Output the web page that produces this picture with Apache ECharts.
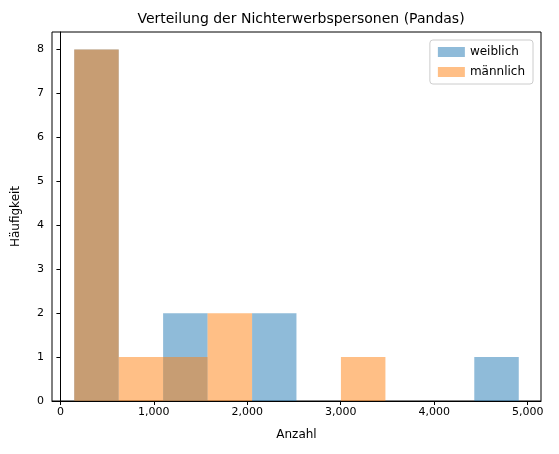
<!DOCTYPE html>
<html><head><meta charset="utf-8">
<script src="https://cdn.jsdelivr.net/npm/echarts@6/dist/echarts.min.js"></script>
<style>html,body{margin:0;padding:0;background:#fff}#c{width:559px;height:454px}</style>
</head><body><div id="c"></div>
<script>
const binEdges = [148, 624, 1099, 1575, 2051, 2526, 3002, 3478, 3953, 4429, 4905];
const weiblich = [8, 0, 2, 0, 2, 0, 0, 0, 0, 1];
const maennlich = [8, 1, 1, 2, 0, 0, 1, 0, 0, 0];
const xTicks = [0, 1000, 2000, 3000, 4000, 5000];
const yTicks = [0, 1, 2, 3, 4, 5, 6, 7, 8];

function toRects(counts){
  return counts.map((c,i)=>[binEdges[i], binEdges[i+1], c]).filter(d=>d[2]>0);
}
function rectSeries(name, counts, color){
  return {
    type:'custom', name, data: toRects(counts),
    itemStyle:{color},
    renderItem(params, api){
      const p0 = api.coord([api.value(0), api.value(2)]);
      const p1 = api.coord([api.value(1), 0]);
      return {type:'rect', shape:{x:p0[0], y:p0[1], width:p1[0]-p0[0], height:p1[1]-p0[1]},
        style:{fill:color}};
    },
    encode:{x:[0,1], y:2}
  };
}
const chart = echarts.init(document.getElementById('c'));
const font = 'DejaVu Sans';
chart.setOption({
  animation:false,
  textStyle:{fontFamily:font},
  title:{text:'Verteilung der Nichterwerbspersonen (Pandas)', left:296, top:7, textAlign:'center',
    textStyle:{fontFamily:font, fontSize:14, fontWeight:'normal', color:'#000'}},
  legend:{right:26, top:40, orient:'vertical', itemWidth:27, itemHeight:10, itemGap:8,
    borderColor:'#ccc', borderWidth:1, borderRadius:3, padding:[6,8],
    textStyle:{fontFamily:font, fontSize:12, color:'#000'},
    data:[{name:'weiblich', icon:'rect', itemStyle:{color:'rgba(31,119,180,0.5)'}},
          {name:'männlich', icon:'rect', itemStyle:{color:'rgba(255,127,14,0.5)'}}]},
  grid:{left:52, right:18, top:32, bottom:53, show:true, borderColor:'#000', borderWidth:1},
  xAxis:{type:'value', min:-90, max:5143, name:'Anzahl', nameLocation:'middle', nameGap:28,
    nameTextStyle:{fontFamily:font, fontSize:12, color:'#000'},
    splitLine:{show:false},
    axisLine:{lineStyle:{color:'#000'}},
    axisTick:{customValues:xTicks, length:4, lineStyle:{color:'#000'}},
    axisLabel:{customValues:xTicks, color:'#000', fontSize:11, fontFamily:font, margin:6}},
  yAxis:{type:'value', min:0, max:8.4, name:'Häufigkeit', nameLocation:'middle', nameGap:30,
    nameTextStyle:{fontFamily:font, fontSize:12, color:'#000'},
    splitLine:{show:false},
    axisLine:{show:true, lineStyle:{color:'#000'}},
    axisTick:{show:true, customValues:yTicks, length:4, lineStyle:{color:'#000'}},
    axisLabel:{customValues:yTicks, color:'#000', fontSize:11, fontFamily:font, margin:8}},
  series:[rectSeries('weiblich', weiblich, 'rgba(31,119,180,0.5)'),
          rectSeries('männlich', maennlich, 'rgba(255,127,14,0.5)')]
});
</script></body></html>
